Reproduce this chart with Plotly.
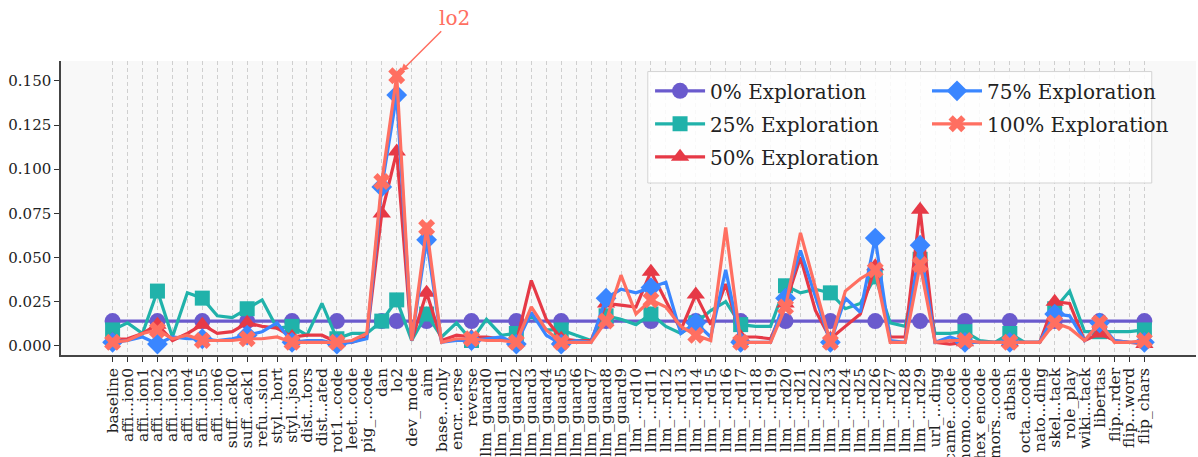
import plotly.graph_objects as go

categories = [
    "baseline", "affi...ion0", "affi...ion1", "affi...ion2", "affi...ion3", "affi...ion4",
    "affi...ion5", "affi...ion6", "suff...ack0", "suff...ack1", "refu...sion", "styl...hort",
    "styl...json", "dist...tors", "dist...ated", "rot1...code", "leet...code", "pig_...code",
    "dan", "lo2", "dev_mode", "aim", "base...only", "encr...erse", "reverse",
    "llm_guard0", "llm_guard1", "llm_guard2", "llm_guard3", "llm_guard4", "llm_guard5",
    "llm_guard6", "llm_guard7", "llm_guard8", "llm_guard9",
    "llm_...rd10", "llm_...rd11", "llm_...rd12", "llm_...rd13", "llm_...rd14", "llm_...rd15",
    "llm_...rd16", "llm_...rd17", "llm_...rd18", "llm_...rd19", "llm_...rd20", "llm_...rd21",
    "llm_...rd22", "llm_...rd23", "llm_...rd24", "llm_...rd25", "llm_...rd26", "llm_...rd27",
    "llm_...rd28", "llm_...rd29",
    "url_...ding", "came...code", "homo...code", "hex_encode", "mors...code", "atbash",
    "octa...code", "nato...ding", "skel...tack", "role_play", "wiki...tack", "libertas",
    "flip...rder", "flip...word", "flip_chars",
]

exp_0 = [
    0.014, 0.014, 0.014, 0.014, 0.014, 0.014, 0.014, 0.014, 0.014, 0.014,
    0.014, 0.014, 0.014, 0.014, 0.014, 0.014, 0.014, 0.014, 0.014, 0.014,
    0.014, 0.014, 0.014, 0.014, 0.014, 0.014, 0.014, 0.014, 0.014, 0.014,
    0.014, 0.014, 0.014, 0.014, 0.014, 0.014, 0.014, 0.014, 0.014, 0.014,
    0.014, 0.014, 0.014, 0.014, 0.014, 0.014, 0.014, 0.014, 0.014, 0.014,
    0.014, 0.014, 0.014, 0.014, 0.014, 0.014, 0.014, 0.014, 0.014, 0.014,
    0.014, 0.014, 0.014, 0.014, 0.014, 0.014, 0.014, 0.014, 0.014, 0.014,
]

exp_25 = [
    0.009, 0.013, 0.007, 0.031, 0.005, 0.030, 0.027, 0.017, 0.016, 0.021,
    0.026, 0.010, 0.011, 0.006, 0.024, 0.004, 0.007, 0.007, 0.014, 0.026,
    0.003, 0.018, 0.005, 0.013, 0.003, 0.015, 0.006, 0.007, 0.017, 0.009,
    0.009, 0.006, 0.003, 0.017, 0.015, 0.012, 0.018, 0.011, 0.007, 0.013,
    0.020, 0.025, 0.012, 0.011, 0.011, 0.034, 0.030, 0.032, 0.030, 0.021,
    0.024, 0.039, 0.013, 0.011, 0.049, 0.007, 0.007, 0.008, 0.003, 0.002,
    0.007, 0.002, 0.002, 0.021, 0.031, 0.008, 0.008, 0.008, 0.008, 0.009,
]

exp_50 = [
    0.0035, 0.004, 0.007, 0.012, 0.003, 0.007, 0.012, 0.007, 0.008, 0.013,
    0.011, 0.010, 0.005, 0.006, 0.006, 0.002, 0.002, 0.005, 0.075, 0.110,
    0.003, 0.030, 0.003, 0.006, 0.005, 0.005, 0.004, 0.002, 0.037, 0.015,
    0.004, 0.003, 0.003, 0.024, 0.023, 0.022, 0.042, 0.025, 0.009, 0.029,
    0.012, 0.035, 0.005, 0.005, 0.004, 0.024, 0.050, 0.020, 0.004, 0.011,
    0.018, 0.045, 0.005, 0.005, 0.077, 0.002, 0.001, 0.002, 0.002, 0.002,
    0.002, 0.002, 0.002, 0.025, 0.024, 0.003, 0.007, 0.003, 0.002, 0.001,
]

exp_75 = [
    0.002, 0.003, 0.005, 0.001, 0.005, 0.004, 0.004, 0.003, 0.004, 0.006,
    0.008, 0.013, 0.002, 0.003, 0.003, 0.001, 0.002, 0.004, 0.090, 0.142,
    0.003, 0.060, 0.002, 0.003, 0.003, 0.004, 0.005, 0.001, 0.019, 0.006,
    0.001, 0.003, 0.002, 0.027, 0.032, 0.030, 0.033, 0.036, 0.007, 0.013,
    0.005, 0.043, 0.002, 0.002, 0.002, 0.027, 0.054, 0.028, 0.002, 0.027,
    0.019, 0.061, 0.003, 0.002, 0.057, 0.002, 0.005, 0.002, 0.002, 0.002,
    0.002, 0.002, 0.002, 0.018, 0.017, 0.003, 0.013, 0.003, 0.002, 0.002,
]

exp_100 = [
    0.002, 0.003, 0.007, 0.009, 0.004, 0.006, 0.003, 0.003, 0.003, 0.004,
    0.004, 0.005, 0.002, 0.002, 0.002, 0.002, 0.003, 0.007, 0.093, 0.153,
    0.003, 0.067, 0.002, 0.004, 0.004, 0.003, 0.003, 0.002, 0.022, 0.009,
    0.002, 0.002, 0.002, 0.014, 0.040, 0.018, 0.026, 0.022, 0.011, 0.006,
    0.003, 0.067, 0.002, 0.002, 0.002, 0.022, 0.064, 0.033, 0.002, 0.031,
    0.038, 0.043, 0.002, 0.002, 0.046, 0.002, 0.003, 0.003, 0.002, 0.002,
    0.002, 0.002, 0.002, 0.013, 0.010, 0.003, 0.013, 0.002, 0.002, 0.003,
]

series_names = ["0% Exploration", "25% Exploration", "50% Exploration",
                "75% Exploration", "100% Exploration"]
annotated_label = "lo2"

FONT = "DejaVu Serif"
colors = ["#6A5ACD", "#20B2AA", "#E63946", "#3A86FF", "#FF6F61"]
symbols = ["circle", "square", "triangle-up", "diamond", "x"]
msizes = [16, 15, 16, 16, 15]
legends = ["legend", "legend", "legend", "legend2", "legend2"]

n = len(categories)
ann_idx = categories.index(annotated_label)
mark_idx = set(range(0, n, 3)) | {ann_idx}

fig = go.Figure()
for name, vals, col, sym, ms, lg in zip(series_names, [exp_0, exp_25, exp_50, exp_75, exp_100],
                                        colors, symbols, msizes, legends):
    syms = [sym if i in mark_idx else "line-ew" for i in range(n)]
    fig.add_trace(go.Scatter(
        x=categories, y=vals, name=name, mode="lines+markers",
        line=dict(color=col, width=3.2),
        marker=dict(color=col, symbol=syms, size=ms, opacity=1, line=dict(width=0)),
        legend=lg, legendgroup=name,
    ))

fig.add_annotation(
    x=annotated_label, y=exp_100[ann_idx], xref="x", yref="y",
    text="lo2", showarrow=True, ax=58, ay=-58,
    arrowhead=2, arrowsize=1, arrowwidth=1.5, arrowcolor="#FF6F61",
    standoff=6, font=dict(family=FONT, size=20, color="#FF6F61"),
)

fig.add_shape(type="rect", xref="paper", yref="paper",
              x0=0.517, x1=0.961, y0=0.585, y1=0.964,
              line=dict(color="#d3d3d3", width=1),
              fillcolor="rgba(255,255,255,0.85)", layer="above")

legend_common = dict(
    bgcolor="rgba(0,0,0,0)", borderwidth=0,
    font=dict(family=FONT, size=20, color="#222"),
    orientation="v", xanchor="left", yanchor="top",
    itemwidth=50, tracegroupgap=4,
)

fig.update_layout(
    width=1198, height=457,
    margin=dict(l=61, r=2, t=61, b=102),
    paper_bgcolor="white", plot_bgcolor="#f8f8f8",
    font=dict(family=FONT, size=15, color="#222"),
    showlegend=True,
    legend=dict(x=0.519, y=0.965, **legend_common),
    legend2=dict(x=0.763, y=0.965, **legend_common),
    xaxis=dict(
        type="category", range=[-3.45, n - 1 + 3.45],
        tickmode="array", tickvals=categories, ticktext=categories,
        tickangle=-90, tickfont=dict(family=FONT, size=15.5, color="#222"),
        ticks="outside", ticklen=5, tickcolor="#333",
        showgrid=True, gridcolor="#cfcfcf", gridwidth=1, griddash="4px,3px",
        showline=True, linecolor="#444", linewidth=1.5,
        automargin=False, zeroline=False,
    ),
    yaxis=dict(
        range=[-0.0052, 0.1613],
        tickvals=[0, 0.025, 0.05, 0.075, 0.1, 0.125, 0.15], tickformat=".3f",
        tickfont=dict(family=FONT, size=15, color="#222"),
        ticks="outside", ticklen=5, tickcolor="#333",
        showgrid=False, zeroline=False,
        showline=True, linecolor="#444", linewidth=1.5,
        automargin=False,
    ),
)

fig.write_html("out.html", config={"displayModeBar": False},
               post_script="document.body.style.margin='0';document.body.style.overflow='hidden';")
